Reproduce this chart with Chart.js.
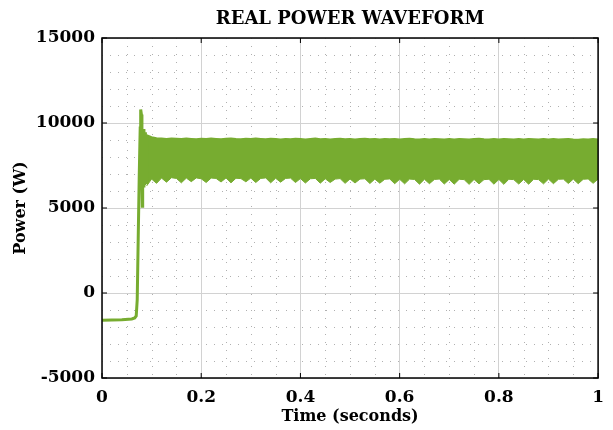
<!DOCTYPE html>
<html>
<head>
<meta charset="utf-8">
<script src="https://cdn.jsdelivr.net/npm/chart.js@4.4.0/dist/chart.umd.min.js"></script>
<style>
  html, body { margin: 0; padding: 0; background: #fff; }
</style>
</head>
<body>
<canvas id="power" width="613" height="430"></canvas>
<script>
// start-up transient (seconds, watts)
const startTime  = [0, 0.02, 0.04, 0.06, 0.066, 0.069, 0.071, 0.073, 0.075, 0.077, 0.078, 0.0795, 0.0805, 0.0812, 0.082, 0.083, 0.0845, 0.086, 0.0875, 0.089, 0.090];
const startPower = [-1600, -1590, -1570, -1530, -1470, -1350, -400, 3200, 6800, 9700, 10800, 10500, 6400, 5100, 9600, 6300, 9650, 6350, 9450, 6500, 9300];

// steady-state ripple band: upper and lower envelope
const bandTime = [0.09, 0.10, 0.11, 0.12, 0.13, 0.14, 0.15, 0.16, 0.17, 0.18, 0.19,
  0.20, 0.21, 0.22, 0.23, 0.24, 0.25, 0.26, 0.27, 0.28, 0.29,
  0.30, 0.31, 0.32, 0.33, 0.34, 0.35, 0.36, 0.37, 0.38, 0.39,
  0.40, 0.41, 0.42, 0.43, 0.44, 0.45, 0.46, 0.47, 0.48, 0.49,
  0.50, 0.51, 0.52, 0.53, 0.54, 0.55, 0.56, 0.57, 0.58, 0.59,
  0.60, 0.61, 0.62, 0.63, 0.64, 0.65, 0.66, 0.67, 0.68, 0.69,
  0.70, 0.71, 0.72, 0.73, 0.74, 0.75, 0.76, 0.77, 0.78, 0.79,
  0.80, 0.81, 0.82, 0.83, 0.84, 0.85, 0.86, 0.87, 0.88, 0.89,
  0.90, 0.91, 0.92, 0.93, 0.94, 0.95, 0.96, 0.97, 0.98, 0.99, 1.00];
const bandUpper = [9300, 9180, 9120, 9100, 9080, 9110, 9090, 9070, 9100, 9080, 9060,
  9090, 9070, 9100, 9080, 9060, 9090, 9110, 9080, 9060, 9090,
  9070, 9100, 9080, 9060, 9090, 9070, 9050, 9080, 9060, 9090,
  9070, 9050, 9080, 9100, 9060, 9080, 9050, 9070, 9090, 9060,
  9080, 9050, 9070, 9090, 9060, 9080, 9050, 9070, 9060, 9080,
  9050, 9070, 9090, 9060, 9040, 9070, 9050, 9080, 9060, 9040,
  9070, 9050, 9080, 9060, 9040, 9070, 9090, 9060, 9050, 9070,
  9050, 9080, 9060, 9040, 9070, 9050, 9080, 9060, 9040, 9070,
  9050, 9070, 9040, 9060, 9080, 9050, 9030, 9060, 9040, 9070, 9050];
const bandLower = [6300, 6700, 6450, 6760, 6520, 6780, 6740, 6480, 6760, 6550, 6770,
  6720, 6500, 6760, 6740, 6530, 6770, 6480, 6750, 6730, 6540,
  6760, 6500, 6740, 6770, 6480, 6750, 6520, 6740, 6760, 6500,
  6730, 6470, 6720, 6740, 6460, 6720, 6500, 6700, 6730, 6450,
  6710, 6470, 6700, 6720, 6440, 6700, 6460, 6690, 6710, 6430,
  6690, 6420, 6700, 6680, 6400, 6690, 6430, 6680, 6700, 6410,
  6680, 6400, 6690, 6670, 6390, 6680, 6420, 6670, 6690, 6400,
  6680, 6390, 6690, 6670, 6410, 6680, 6400, 6690, 6670, 6420,
  6700, 6430, 6690, 6700, 6440, 6700, 6430, 6690, 6710, 6450, 6700];

const green = '#77ac30';
const serif = 'DejaVu Serif';

const pts = (xs, ys) => xs.map((t, i) => ({ x: t, y: ys[i] }));

const framePlugin = {
  id: 'frame',
  beforeDatasetsDraw(chart) {
    const { ctx, chartArea: a, scales: { x, y } } = chart;
    ctx.save();
    ctx.strokeStyle = '#b0b0b0';
    ctx.lineWidth = 1;
    ctx.setLineDash([1, 7]);
    for (let v = 0.05; v < 1; v += 0.05) {
      if (Math.abs(v / 0.2 - Math.round(v / 0.2)) < 1e-6) continue;
      const px = Math.round(x.getPixelForValue(v)) + 0.5;
      ctx.beginPath(); ctx.moveTo(px, a.top); ctx.lineTo(px, a.bottom); ctx.stroke();
    }
    for (let v = -4000; v < 15000; v += 1000) {
      if (v % 5000 === 0) continue;
      const py = Math.round(y.getPixelForValue(v)) + 0.5;
      ctx.beginPath(); ctx.moveTo(a.left, py); ctx.lineTo(a.right, py); ctx.stroke();
    }
    ctx.restore();
  },
  afterDatasetsDraw(chart) {
    const { ctx, chartArea: a, scales: { x, y } } = chart;
    ctx.save();
    ctx.strokeStyle = '#000';
    ctx.lineWidth = 1.5;
    ctx.strokeRect(a.left, a.top, a.right - a.left, a.bottom - a.top);
    ctx.lineWidth = 1;
    x.ticks.forEach(t => {
      const px = x.getPixelForValue(t.value);
      ctx.beginPath();
      ctx.moveTo(px, a.bottom); ctx.lineTo(px, a.bottom - 5);
      ctx.moveTo(px, a.top); ctx.lineTo(px, a.top + 5);
      ctx.stroke();
    });
    y.ticks.forEach(t => {
      const py = y.getPixelForValue(t.value);
      ctx.beginPath();
      ctx.moveTo(a.left, py); ctx.lineTo(a.left + 5, py);
      ctx.moveTo(a.right, py); ctx.lineTo(a.right - 5, py);
      ctx.stroke();
    });
    ctx.restore();
  },
  afterDraw(chart) {
    const { ctx, chartArea: a } = chart;
    ctx.save();
    ctx.fillStyle = '#000';
    ctx.font = 'bold 18px "' + serif + '"';
    ctx.textAlign = 'center';
    ctx.textBaseline = 'middle';
    ctx.fillText('REAL POWER WAVEFORM', (a.left + a.right) / 2, 19);
    ctx.restore();
  }
};

new Chart(document.getElementById('power'), {
  type: 'line',
  plugins: [framePlugin],
  data: {
    datasets: [
      { data: pts(startTime, startPower), borderColor: green, borderWidth: 3, pointRadius: 0, fill: false, tension: 0 },
      { data: pts(bandTime, bandUpper), borderColor: green, backgroundColor: green, borderWidth: 1.5, pointRadius: 0, fill: '+1', tension: 0 },
      { data: pts(bandTime, bandLower), borderColor: green, borderWidth: 1, pointRadius: 0, fill: false, tension: 0 }
    ]
  },
  options: {
    responsive: false,
    animation: false,
    layout: { padding: { top: 38, right: 14, left: 0, bottom: 0 } },
    plugins: { legend: { display: false }, tooltip: { enabled: false } },
    scales: {
      x: {
        type: 'linear', min: 0, max: 1,
        ticks: {
          stepSize: 0.2, color: '#000', padding: 9,
          font: { family: serif, size: 17, weight: 'bold' },
          callback: v => String(Number(v.toFixed(1)))
        },
        grid: { color: '#d2d2d2', drawTicks: false },
        border: { display: false },
        title: { display: true, text: 'Time (seconds)', color: '#000', padding: { top: 0 },
          font: { family: serif, size: 16, weight: 'bold' } },
        afterFit: s => { s.height = 52; }
      },
      y: {
        min: -5000, max: 15000,
        ticks: {
          stepSize: 5000, color: '#000', padding: 7,
          font: { family: serif, size: 17, weight: 'bold' },
          callback: v => String(v)
        },
        grid: { color: '#d2d2d2', drawTicks: false },
        border: { display: false },
        title: { display: true, text: 'Power (W)', color: '#000', padding: { top: 11, bottom: 4 },
          font: { family: serif, size: 16, weight: 'bold' } },
        afterFit: s => { s.width = 102; }
      }
    }
  }
});
</script>
</body>
</html>
